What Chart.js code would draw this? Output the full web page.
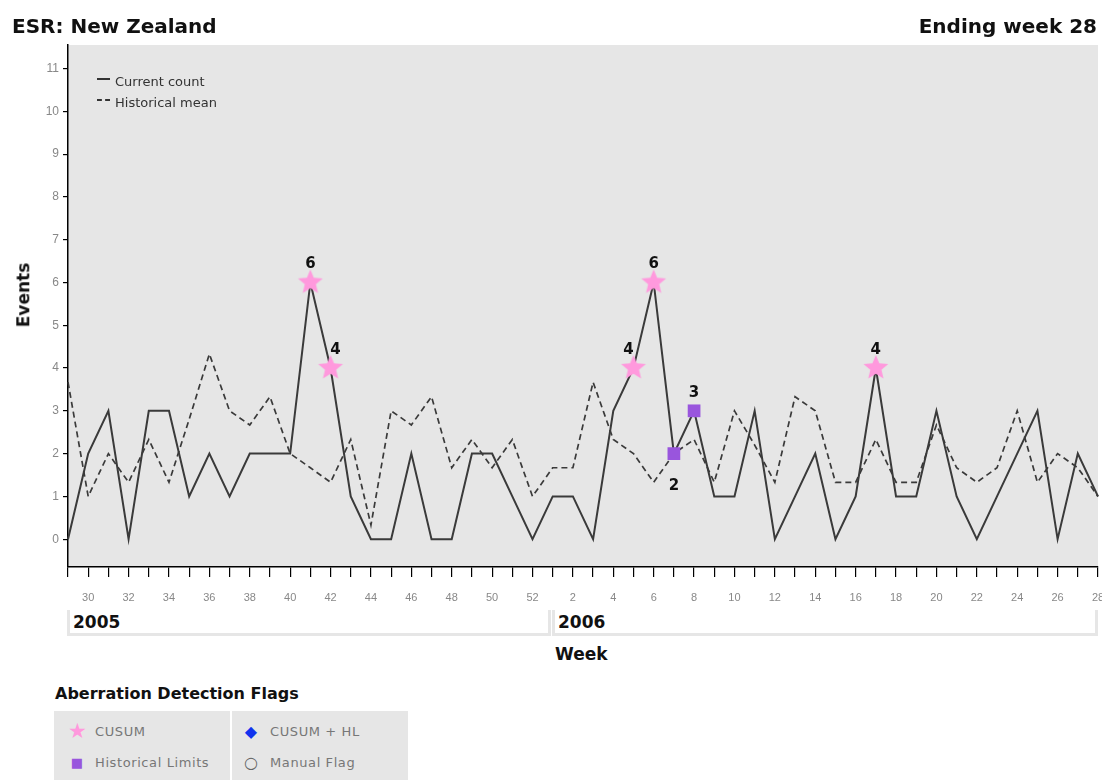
<!DOCTYPE html>
<html>
<head>
<meta charset="utf-8">
<script src="https://cdn.jsdelivr.net/npm/chart.js@4.4.0/dist/chart.umd.min.js"></script>
<style>
  body { margin: 0; background: #fff; width: 1102px; height: 780px; overflow: hidden; position: relative; font-family: "DejaVu Sans", Verdana, sans-serif; }
  #chart { position: absolute; left: 0; top: 0; }
  .hdr { position: absolute; top: 14px; font-weight: bold; font-size: 20px; line-height: 24px; color: #111; }
  .leg { position: absolute; left: 97px; font-size: 13px; color: #333; line-height: 16px; }
  .leg i { display: inline-block; width: 13px; vertical-align: middle; margin-right: 5px; position: relative; top: -4px; }
  .year { position: absolute; top: 610px; height: 26px; background: #fff; border: 3px solid #e6e6e6; border-top: none; font-weight: bold; font-size: 17px; line-height: 24px; padding-left: 3px; box-sizing: border-box; color: #111; }
  .axt { position: absolute; font-weight: bold; font-size: 17px; color: #111; }
  #flags { position: absolute; left: 54px; top: 711px; width: 354px; height: 69px; background: #e6e6e6; }
  #flags .div { position: absolute; left: 176px; top: 0; width: 2px; height: 69px; background: #fff; }
  .fl { position: absolute; font-size: 13px; color: #777; letter-spacing: 0.6px; line-height: 14px; }
  .ic { position: absolute; line-height: 14px; text-align: center; width: 18px; }
</style>
</head>
<body>
<canvas id="chart" width="1111" height="620"></canvas>

<div class="hdr" style="left:12px">ESR: New Zealand</div>
<div class="hdr" style="right:5px">Ending week 28</div>

<div class="leg" style="top:74px"><i style="border-top:2px solid #333"></i>Current count</div>
<div class="leg" style="top:95px"><i style="border-top:2px dashed #333"></i>Historical mean</div>

<div class="year" style="left:67px;width:484px">2005</div>
<div class="year" style="left:552px;width:546px">2006</div>
<div class="axt" style="left:555px;top:644px">Week</div>
<div class="axt" style="left:-9px;top:285px;transform:rotate(-90deg)">Events</div>

<div class="axt" style="left:55px;top:684px;font-size:16px">Aberration Detection Flags</div>
<div id="flags">
  <div class="div"></div>
  <div class="ic" style="left:14px;top:13px;color:#ff99dd;font-size:21px">★</div>
  <div class="fl" style="left:41px;top:14px">CUSUM</div>
  <div class="ic" style="left:14px;top:45px;color:#9955dd;font-size:13px">■</div>
  <div class="fl" style="left:41px;top:45px">Historical Limits</div>
  <div class="ic" style="left:188px;top:14px;color:#1133ee;font-size:16px">◆</div>
  <div class="fl" style="left:216px;top:14px">CUSUM + HL</div>
  <div class="ic" style="left:188px;top:45px;color:#666;font-size:16px">○</div>
  <div class="fl" style="left:216px;top:45px">Manual Flag</div>
</div>

<script>
// weeks 29..52 of 2005 followed by weeks 1..28 of 2006
const weeks = [29, 30, 31, 32, 33, 34, 35, 36, 37, 38, 39, 40, 41, 42, 43, 44, 45, 46, 47, 48, 49, 50, 51, 52,
  1, 2, 3, 4, 5, 6, 7, 8, 9, 10, 11, 12, 13, 14, 15, 16, 17, 18, 19, 20, 21, 22, 23, 24, 25, 26, 27, 28];

const currentCount = [0, 2, 3, 0, 3, 3, 1, 2, 1, 2, 2, 2, 6, 4, 1, 0, 0, 2, 0, 0, 2, 2, 1, 0,
  1, 1, 0, 3, 4, 6, 2, 3, 1, 1, 3, 0, 1, 2, 0, 1, 4, 1, 1, 3, 1, 0, 1, 2, 3, 0, 2, 1];

const historicalMean = [3.67, 1, 2, 1.33, 2.33, 1.33, 2.8, 4.33, 3, 2.67, 3.33, 2, 1.67, 1.33, 2.33, 0.33, 3, 2.67, 3.33, 1.67, 2.33, 1.67, 2.33, 1,
  1.67, 1.67, 3.67, 2.33, 2, 1.33, 2, 2.33, 1.33, 3, 2.2, 1.33, 3.33, 3, 1.33, 1.33, 2.33, 1.33, 1.33, 2.67, 1.67, 1.33, 1.67, 3, 1.33, 2, 1.67, 1];

const cusumWeeks = [41, 42, 5, 6, 17];
const histLimitWeeks = [7, 8];

const yTicks = [0, 1, 2, 3, 4, 5, 6, 7, 8, 9, 10, 11];

const cusumFlags = weeks.map((w, i) => (cusumWeeks.includes(w) ? currentCount[i] : null));
const hlFlags = weeks.map((w, i) => (histLimitWeeks.includes(w) ? currentCount[i] : null));

// filled pink star used as the CUSUM point marker
function makeStar(r, color) {
  const c = document.createElement("canvas");
  c.width = c.height = r * 2 + 2;
  const g = c.getContext("2d");
  g.translate(r + 1, r + 1);
  g.beginPath();
  for (let k = 0; k < 10; k++) {
    const rad = k % 2 === 0 ? r : r * 0.45;
    const a = -Math.PI / 2 + (k * Math.PI) / 5;
    g.lineTo(rad * Math.cos(a), rad * Math.sin(a));
  }
  g.closePath();
  g.fillStyle = color;
  g.fill();
  return c;
}
const starImg = makeStar(13, "#ff99dd");

const plotBg = {
  id: "plotBg",
  beforeDraw(chart) {
    const { ctx, chartArea: a } = chart;
    ctx.save();
    ctx.fillStyle = "#e6e6e6";
    ctx.fillRect(a.left, a.top, a.right - a.left, a.bottom - a.top);
    ctx.restore();
  },
};

// value labels by flagged points: below a dip, above otherwise,
// nudged away from the higher neighbour on a slope
const flagLabels = {
  id: "flagLabels",
  afterDatasetsDraw(chart) {
    const { ctx } = chart;
    ctx.save();
    ctx.font = "bold 15px 'DejaVu Sans', Verdana, sans-serif";
    ctx.fillStyle = "#111";
    ctx.textAlign = "center";
    ctx.textBaseline = "middle";
    [2, 3].forEach((di) => {
      const ds = chart.data.datasets[di];
      chart.getDatasetMeta(di).data.forEach((pt, i) => {
        const v = ds.data[i];
        if (v == null) return;
        const prev = currentCount[i - 1], next = currentCount[i + 1];
        const dip = prev > v && next > v;
        const peak = prev < v && next < v;
        let dx = 0;
        if (!dip && !peak) dx = prev > next ? 5 : -5;
        ctx.fillText(String(v), pt.x + dx, dip ? pt.y + 32 : pt.y - 18);
      });
    });
    ctx.restore();
  },
};

const tickFont = { family: "'Liberation Sans', Arial, sans-serif", size: 11 };

new Chart(document.getElementById("chart").getContext("2d"), {
  type: "line",
  data: {
    labels: weeks.map(String),
    datasets: [
      { label: "Current count", data: currentCount, borderColor: "#3a3a3a", borderWidth: 2, pointRadius: 0, tension: 0, order: 2 },
      { label: "Historical mean", data: historicalMean, borderColor: "#3a3a3a", borderWidth: 1.7, borderDash: [6, 4], pointRadius: 0, tension: 0, order: 3 },
      { label: "CUSUM", data: cusumFlags, showLine: false, pointStyle: starImg, pointRadius: 12, order: 0 },
      { label: "Historical Limits", data: hlFlags, showLine: false, pointStyle: "rect", pointRadius: 9, backgroundColor: "#9955dd", borderWidth: 0, order: 0 },
    ],
  },
  options: {
    responsive: false,
    animation: false,
    events: [],
    layout: { padding: { top: 45, right: 4, left: 0, bottom: 0 } },
    plugins: { legend: { display: false }, tooltip: { enabled: false } },
    scales: {
      x: {
        grid: { drawOnChartArea: false, tickLength: 10, color: "#000", lineWidth: 1.2 },
        border: { color: "#000", width: 1.5 },
        ticks: {
          autoSkip: false,
          maxRotation: 0,
          padding: 14,
          color: "#888",
          font: tickFont,
          callback: (v, i) => (weeks[i] % 2 === 0 ? String(weeks[i]) : ""),
        },
        afterFit: (s) => { s.height = 53; s.paddingLeft = 0; s.paddingRight = 0; },
      },
      y: {
        min: -0.65,
        max: 11.55,
        afterBuildTicks: (s) => { s.ticks = yTicks.map((v) => ({ value: v })); },
        grid: { drawOnChartArea: false, tickLength: 5, color: "#000", lineWidth: 1.2 },
        border: { color: "#000", width: 1.5 },
        ticks: { color: "#888", padding: 4, font: { family: tickFont.family, size: 12 }, callback: (v) => String(v) },
        afterFit: (s) => { s.width = 68; },
      },
    },
  },
  plugins: [plotBg, flagLabels],
});
</script>
</body>
</html>
